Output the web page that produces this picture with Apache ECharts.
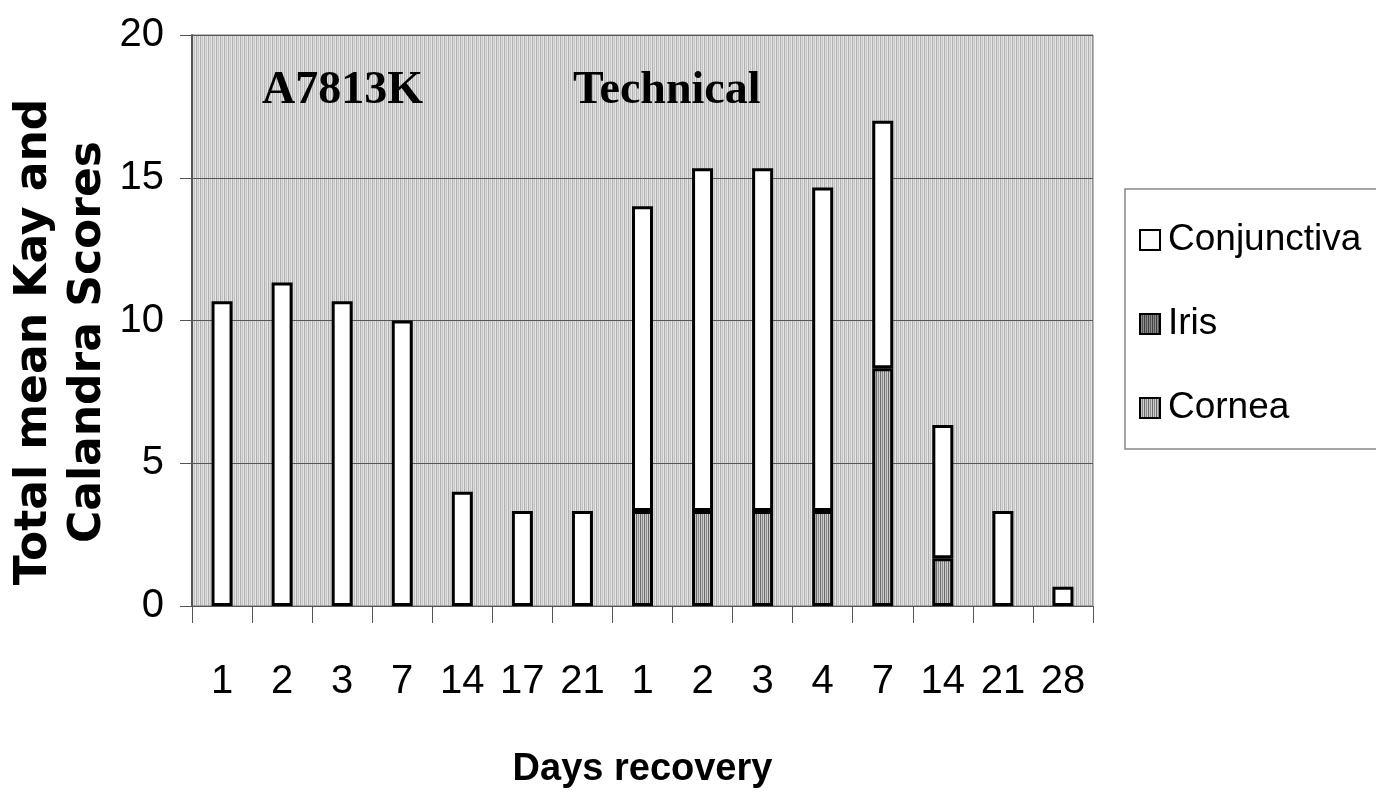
<!DOCTYPE html>
<html>
<head>
<meta charset="utf-8">
<script src="https://cdn.jsdelivr.net/npm/echarts@6/dist/echarts.min.js"></script>
<style>
html,body{margin:0;padding:0;background:#fff;}
#chart{width:1376px;height:806px;}
</style>
</head>
<body>
<div id="chart"></div>
<script>
// ---- data ----
var categories = ['1','2','3','7','14','17','21','1','2','3','4','7','14','21','28'];
var cornea      = [null,null,null,null,null,null,null,3.33,3.33,3.33,3.33,8.33,1.67,null,null];
var iris        = [null,null,null,null,null,null,null,null,null,null,null,null,null,null,null];
var conjunctiva = [10.67,11.33,10.67,10,4,3.33,3.33,10.67,12,12,11.33,8.67,4.67,3.33,0.67];
var yTicks = [0,5,10,15,20];
var seriesNames = ['Conjunctiva','Iris','Cornea'];
var annotations = ['A7813K','Technical'];

function stripePattern(cols){
  var c = document.createElement('canvas');
  c.width = cols.length; c.height = 4;
  var ctx = c.getContext('2d');
  for (var i=0;i<cols.length;i++){ ctx.fillStyle = cols[i]; ctx.fillRect(i,0,1,4); }
  return {image: c, repeat: 'repeat'};
}
var bgPattern = stripePattern(['#b0b0b0','#dadada','#c6c6c6','#e6e6e6']);
var corneaPattern = stripePattern(['#6a6a6a','#c8c8c8','#8a8a8a','#d0d0d0']);
var irisPattern = stripePattern(['#404040','#8a8a8a','#505050','#909090']);

var sans = "'Liberation Sans Narrow','Arial Narrow','Liberation Sans',Arial,sans-serif";

var chart = echarts.init(document.getElementById('chart'), null, {renderer:'canvas'});
var option = {
  animation: false,
  backgroundColor: '#ffffff',
  grid: {
    left: 192, right: 283, top: 35, bottom: 200,
    show: true,
    backgroundColor: bgPattern,
    borderColor: '#777777',
    borderWidth: 1
  },
  legend: {
    orient: 'vertical',
    left: 1125, top: 189,
    data: seriesNames,
    icon: 'rect',
    itemWidth: 20, itemHeight: 20,
    itemGap: 34,
    padding: [26, 80, 16, 14],
    borderColor: '#888888',
    borderWidth: 1.5,
    backgroundColor: '#ffffff',
    textStyle: {fontFamily: sans, fontSize: 37, color: '#000', lineHeight: 50, padding: [0,0,0,3]}
  },
  xAxis: {
    type: 'category',
    data: categories,
    name: 'Days recovery',
    nameLocation: 'middle',
    nameGap: 145,
    nameTextStyle: {fontFamily: sans, fontSize: 38, fontWeight: 'bold', color: '#000'},
    axisLine: {show: true, lineStyle: {color: '#555', width: 1}},
    axisTick: {show: true, length: 17, lineStyle: {color: '#555', width: 1}},
    axisLabel: {fontFamily: sans, fontSize: 40, color: '#000', margin: 56, interval: 0},
    splitLine: {show: false}
  },
  yAxis: {
    type: 'value',
    min: 0, max: 20, interval: 5,
    axisLine: {show: true, lineStyle: {color: '#555', width: 2}},
    axisTick: {show: true, length: 12, lineStyle: {color: '#555', width: 1}},
    axisLabel: {fontFamily: sans, fontSize: 40, color: '#000', margin: 28,
      formatter: function(v){ return yTicks.indexOf(v) >= 0 ? String(v) : ''; }},
    splitLine: {show: true, lineStyle: {color: '#555', width: 1}}
  },
  graphic: [
    {type:'text', left: 262, top: 68, z: 100,
     style:{text: annotations[0], font: "bold 46px 'Liberation Serif','Times New Roman',serif", fill:'#000'}},
    {type:'text', left: 573, top: 68, z: 100,
     style:{text: annotations[1], font: "bold 46px 'Liberation Serif','Times New Roman',serif", fill:'#000'}},
    {type:'text', x: 62, y: 342, rotation: Math.PI/2, z: 100,
     style:{text: 'Total mean Kay and\nCalandra Scores', font: "bold 44px 'DejaVu Sans',sans-serif",
       fill:'#000', textAlign:'center', textVerticalAlign:'middle', lineHeight: 54}}
  ],
  series: [
    {name: 'Cornea', type: 'bar', stack: 'total', data: cornea, barWidth: 21,
     itemStyle: {color: corneaPattern, borderColor: '#000', borderWidth: 3}},
    {name: 'Iris', type: 'bar', stack: 'total', data: iris, barWidth: 21,
     itemStyle: {color: irisPattern, borderColor: '#000', borderWidth: 3}},
    {name: 'Conjunctiva', type: 'bar', stack: 'total', data: conjunctiva, barWidth: 21,
     itemStyle: {color: '#ffffff', borderColor: '#000', borderWidth: 3}}
  ]
};
chart.setOption(option);
</script>
</body>
</html>
